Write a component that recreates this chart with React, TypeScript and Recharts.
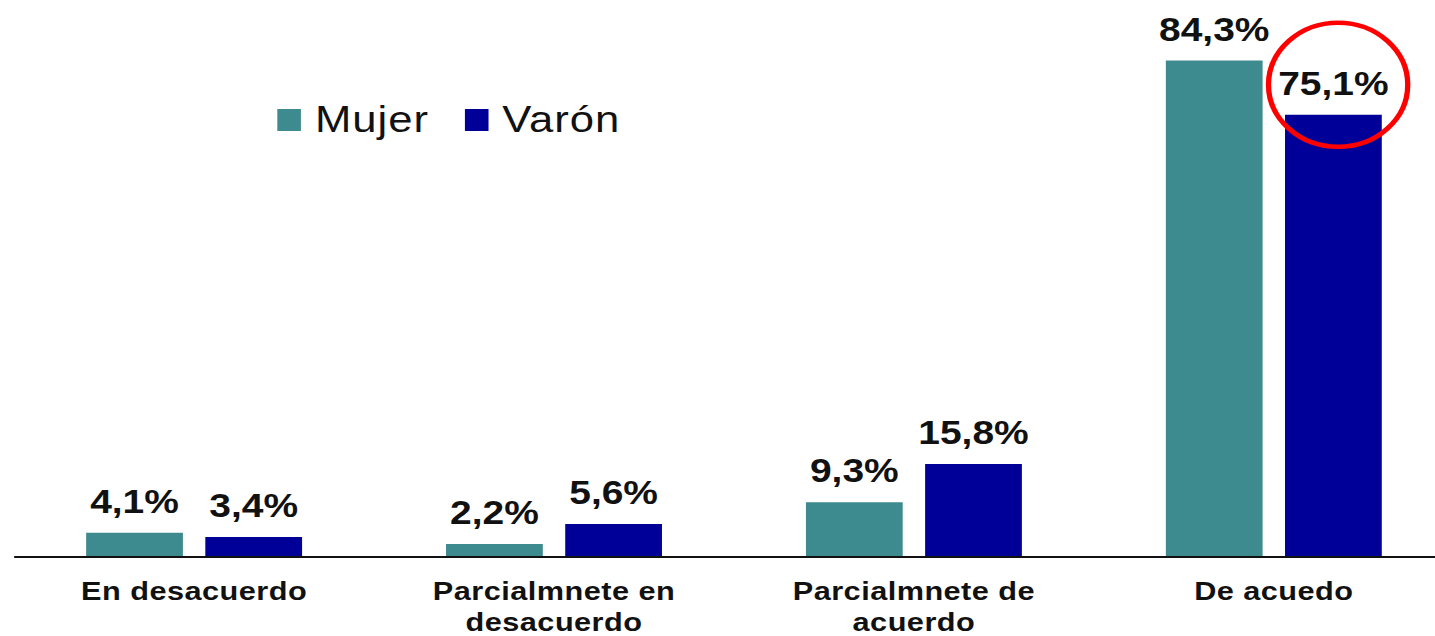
import React from 'react';
import { BarChart, Bar, XAxis, YAxis, Legend, LabelList } from 'recharts';

// categories (line breaks as in the original axis labels, typos kept)
const categories = ['En desacuerdo', 'Parcialmnete en\ndesacuerdo', 'Parcialmnete de\nacuerdo', 'De acuedo'];
const mujerValues = [4.1, 2.2, 9.3, 84.3];
const varonValues = [3.4, 5.6, 15.8, 75.1];
const highlightCategory = 'De acuedo';

const data = categories.map((name, i) => ({ name, mujer: mujerValues[i], varon: varonValues[i] }));

const FONT = '"Liberation Sans", Arial, sans-serif';
const TEAL = '#3d8a8f';
const NAVY = '#000099';
// the source picture is stretched horizontally, so the whole chart is too
const STRETCH = 1.18;

const fmt = (v: number) => `${v.toFixed(1).replace('.', ',')}%`;

const CategoryTick = (props: any) => {
  const { x, y, payload } = props;
  const lines = String(payload.value).split('\n');
  return (
    <text x={x} y={y} textAnchor="middle" fontFamily={FONT} fontSize={26} fontWeight="bold" letterSpacing={0.4} fill="#111">
      {lines.map((line, i) => (
        <tspan key={i} x={x} dy={i === 0 ? 43 : 31}>{line}</tspan>
      ))}
    </text>
  );
};

const valueLabel = (circled: boolean) => (props: any) => {
  const vb = props.viewBox ?? props;
  const x = vb.x ?? props.x;
  const y = vb.y ?? props.y;
  const width = vb.width ?? props.width;
  const cx = x + width / 2;
  const showCircle = circled && categories[props.index] === highlightCategory;
  return (
    <g>
      <text x={cx} y={y - 20} textAnchor="middle" fontFamily={FONT} fontSize={33} fontWeight="bold" fill="#111">
        {fmt(Number(props.value))}
      </text>
      {showCircle && (
        <ellipse cx={cx + 4} cy={y - 30} rx={59} ry={62} fill="none" stroke="#ff0000" strokeWidth={4.5} />
      )}
    </g>
  );
};

const renderLegend = (props: any) => {
  const { payload } = props;
  return (
    <div style={{ display: 'flex', alignItems: 'center', height: 40, fontFamily: FONT, fontSize: 37, letterSpacing: 0.8, color: '#111' }}>
      {payload.map((entry: any, i: number) => (
        <div key={i} style={{ display: 'flex', alignItems: 'center', marginRight: 30 }}>
          <span style={{ display: 'inline-block', width: 20, height: 22, background: entry.color, marginRight: 12 }} />
          <span style={{ lineHeight: '40px' }}>{entry.value}</span>
        </div>
      ))}
    </div>
  );
};

const App: React.FC = () => {
  return (
    <div style={{ position: 'absolute', left: 0, top: 0, width: 1435, height: 636, overflow: 'hidden', background: '#fff' }}>
      <div style={{ width: 1233, height: 636, transform: `scaleX(${STRETCH})`, transformOrigin: '0 0' }}>
        <BarChart
          width={1233}
          height={636}
          data={data}
          margin={{ top: 27, right: 1, bottom: 0, left: 12 }}
          barSize={82}
          barGap={19}
        >
          <XAxis
            dataKey="name"
            interval={0}
            height={79}
            tickSize={0}
            tickMargin={0}
            tickLine={false}
            axisLine={{ stroke: '#111', strokeWidth: 2 }}
            tick={<CategoryTick />}
          />
          <YAxis hide domain={[0, 90]} />
          <Legend
            layout="horizontal"
            verticalAlign="middle"
            align="center"
            content={renderLegend}
            wrapperStyle={{ top: 100, left: 235, width: 'auto' }}
          />
          <Bar dataKey="mujer" name="Mujer" fill={TEAL} isAnimationActive={false}>
            <LabelList dataKey="mujer" position="top" content={valueLabel(false)} />
          </Bar>
          <Bar dataKey="varon" name="Varón" fill={NAVY} isAnimationActive={false}>
            <LabelList dataKey="varon" position="top" content={valueLabel(true)} />
          </Bar>
        </BarChart>
      </div>
    </div>
  );
};

export default App;
